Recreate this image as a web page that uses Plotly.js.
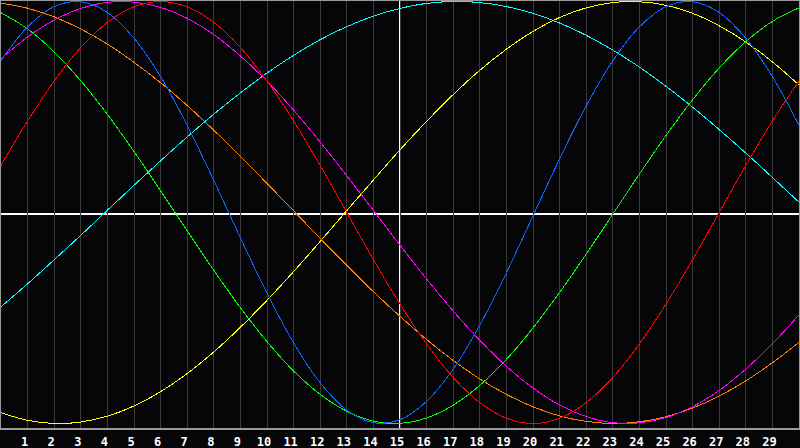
<!DOCTYPE html>
<html>
<head>
<meta charset="utf-8">
<script src="https://cdn.plot.ly/plotly-3.0.1.min.js"></script>
<style>
  html, body { margin: 0; padding: 0; background: #060508; }
  #chart { width: 800px; height: 448px; }
  .scatterlayer path { shape-rendering: crispEdges; }
</style>
</head>
<body>
<div id="chart"></div>
<script>
// Day index along the x axis (0 .. 30), today = day 15
const days = [0,1,2,3,4,5,6,7,8,9,10,11,12,13,14,15,16,17,18,19,20,21,22,23,24,25,26,27,28,29,30];
const tickDays = [1,2,3,4,5,6,7,8,9,10,11,12,13,14,15,16,17,18,19,20,21,22,23,24,25,26,27,28,29];
const tickLabels = ["1","2","3","4","5","6","7","8","9","10","11","12","13","14","15","16","17","18","19","20","21","22","23","24","25","26","27","28","29"];
const today = 15;

// Values (-1 .. +1)
const blueValues = [0.720,0.880,0.976,0.999,0.948,0.826,0.644,0.413,0.152,-0.120,-0.383,-0.618,-0.807,-0.937,-0.996,-0.982,-0.895,-0.742,-0.534,-0.286,-0.016,0.254,0.505,0.719,0.880,0.976,0.999,0.948,0.826,0.644,0.413];
const greenValues = [0.947,0.870,0.761,0.624,0.465,0.289,0.103,-0.087,-0.274,-0.451,-0.612,-0.751,-0.862,-0.942,-0.989,-0.999,-0.974,-0.913,-0.819,-0.696,-0.547,-0.379,-0.197,-0.008,0.182,0.365,0.534,0.685,0.810,0.906,0.970];
const redValues = [0.223,0.434,0.623,0.782,0.901,0.975,1.000,0.975,0.901,0.782,0.623,0.434,0.223,0.000,-0.223,-0.434,-0.623,-0.782,-0.901,-0.975,-1.000,-0.975,-0.901,-0.782,-0.623,-0.434,-0.223,0.000,0.223,0.434,0.623];
const magentaValues = [0.729,0.832,0.912,0.967,0.996,0.997,0.972,0.920,0.843,0.742,0.622,0.485,0.334,0.174,0.010,-0.155,-0.315,-0.467,-0.606,-0.729,-0.832,-0.912,-0.967,-0.996,-0.997,-0.972,-0.920,-0.843,-0.742,-0.622,-0.485];
const orangeValues = [0.992,0.968,0.927,0.870,0.798,0.712,0.615,0.507,0.390,0.266,0.138,0.008,-0.123,-0.251,-0.375,-0.492,-0.602,-0.701,-0.789,-0.862,-0.921,-0.964,-0.990,-1.000,-0.992,-0.968,-0.927,-0.870,-0.798,-0.712,-0.615];
const yellowValues = [-0.949,-0.985,-1.000,-0.993,-0.965,-0.917,-0.849,-0.763,-0.661,-0.544,-0.416,-0.280,-0.137,0.009,0.154,0.297,0.432,0.559,0.674,0.774,0.858,0.924,0.970,0.995,0.999,0.982,0.944,0.885,0.808,0.714,0.604];
const cyanValues = [-0.447,-0.338,-0.224,-0.108,0.011,0.129,0.245,0.358,0.466,0.567,0.661,0.745,0.819,0.881,0.931,0.967,0.991,1.000,0.995,0.976,0.944,0.898,0.840,0.770,0.689,0.598,0.499,0.393,0.282,0.166,0.049];

const series = [
  {name: "cyan", y: cyanValues, color: "#00ffff"},
  {name: "yellow", y: yellowValues, color: "#ffff00"},
  {name: "orange", y: orangeValues, color: "#ff8000"},
  {name: "magenta", y: magentaValues, color: "#ff00ff"},
  {name: "green", y: greenValues, color: "#00ff00"},
  {name: "red", y: redValues, color: "#ff0000"},
  {name: "blue", y: blueValues, color: "#0a64ff"}
];

const traces = series.map(s => ({
  x: days,
  y: s.y,
  type: "scatter",
  mode: "lines",
  name: s.name,
  line: {color: s.color, width: 1, shape: "spline", smoothing: 1.0},
  hoverinfo: "skip"
}));

const layout = {
  width: 800,
  height: 448,
  margin: {l: 1, r: 1, t: 1, b: 20, pad: 0},
  paper_bgcolor: "#060508",
  plot_bgcolor: "#060508",
  showlegend: false,
  xaxis: {
    range: [0, 30],
    tickvals: tickDays,
    ticktext: tickLabels,
    showgrid: true,
    gridcolor: "#3a3a3a",
    gridwidth: 1,
    zeroline: false,
    showline: true,
    linecolor: "#9a9a9a",
    linewidth: 2,
    mirror: true,
    ticks: "",
    ticklabelshift: -3,
    ticklabelstandoff: 2,
    tickfont: {family: "DejaVu Sans Mono, monospace", size: 12, color: "#ffffff", weight: "bold"},
    fixedrange: true
  },
  yaxis: {
    range: [-1.0213, 1.0024],
    showgrid: false,
    zeroline: false,
    showticklabels: false,
    showline: true,
    linecolor: "#9a9a9a",
    linewidth: 1,
    mirror: true,
    ticks: "",
    fixedrange: true
  },
  shapes: [
    {type: "line", xref: "x", yref: "paper", x0: today, x1: today, y0: 0, y1: 1,
     line: {color: "#ffffff", width: 2}, layer: "below"},
    {type: "line", xref: "paper", yref: "y", x0: 0, x1: 1, y0: -0.007, y1: -0.007,
     line: {color: "#ffffff", width: 2}, layer: "below"}
  ]
};

Plotly.newPlot("chart", traces, layout, {staticPlot: true, displayModeBar: false});
</script>
</body>
</html>
